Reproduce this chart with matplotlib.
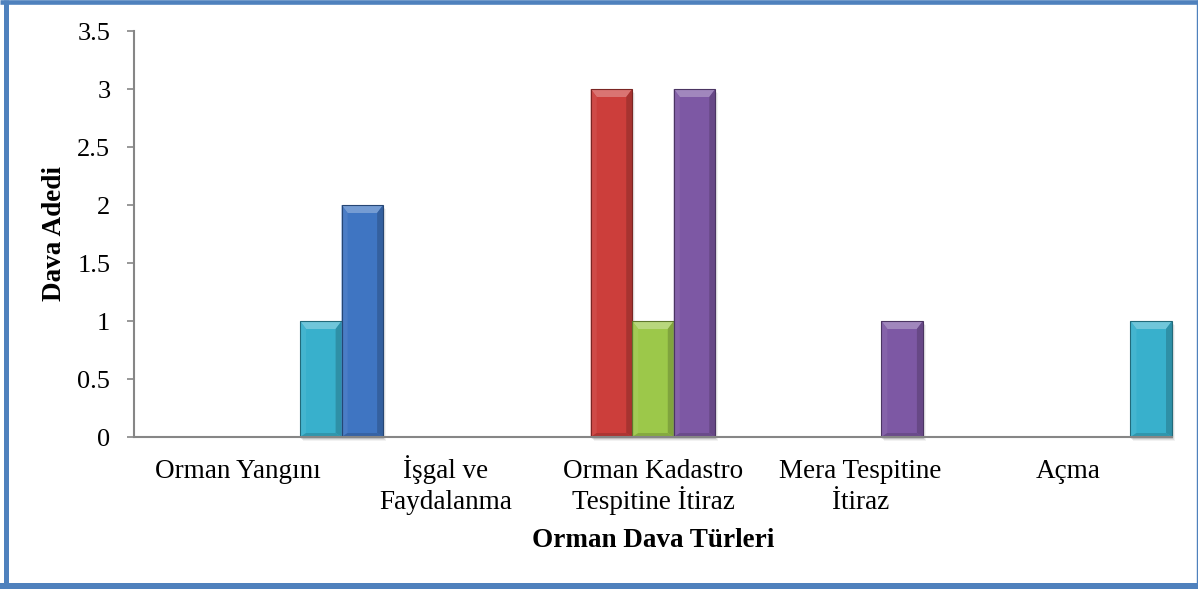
import matplotlib
matplotlib.use("Agg")
import matplotlib.pyplot as plt
import numpy as np
from matplotlib.patches import Polygon, Rectangle
from matplotlib.lines import Line2D
from matplotlib.colors import to_rgb
from matplotlib.transforms import IdentityTransform, offset_copy

# ---- data ----
categories = ["Orman Yangını", "İşgal ve\nFaydalanma", "Orman Kadastro\nTespitine İtiraz",
              "Mera Tespitine\nİtiraz", "Açma"]
series_red = [0, 0, 3, 0, 0]
series_green = [0, 0, 1, 0, 0]
series_purple = [0, 0, 3, 1, 0]
series_cyan = [1, 0, 0, 0, 1]
series_blue = [2, 0, 0, 0, 0]
yticks = [0, 0.5, 1, 1.5, 2, 2.5, 3, 3.5]
ytick_labels = ["0", "0.5", "1", "1.5", "2", "2.5", "3", "3.5"]
xlabel = "Orman Dava Türleri"
ylabel = "Dava Adedi"

series = [series_red, series_green, series_purple, series_cyan, series_blue]
colors = ["#CC3E3B", "#9CC84A", "#7D58A4", "#38B0CC", "#3F75C2"]

W, H = 1198, 589
fig = plt.figure(figsize=(W / 100, H / 100), dpi=100)
fig.patch.set_facecolor("white")
ax = fig.add_axes([134 / W, (H - 437) / H, (1172 - 134) / W, (437 - 31) / H])

font = "Liberation Serif"
fs_x = 19.5
fs_y = 19

x = np.arange(len(categories))
bw = 0.2
bars_all = []
for i, (vals, c) in enumerate(zip(series, colors)):
    offs = (i - 1) * bw
    bars = ax.bar(x + offs, vals, width=bw, color=c, edgecolor="none", zorder=3)
    bars_all.append((bars, c))

ax.set_xlim(-0.5, len(categories) - 0.5)
ax.set_ylim(0, 3.5)
ax.set_yticks(yticks)
ax.set_yticklabels(ytick_labels, fontfamily=font, fontsize=fs_y)
ax.set_xticks(x)
ax.set_xticklabels([""] * len(categories))
ax.tick_params(axis="x", length=0)
ax.tick_params(axis="y", length=7 * 0.72, width=1.2, color="#868686", pad=12)
for s in ["top", "right"]:
    ax.spines[s].set_visible(False)
for s in ["left", "bottom"]:
    ax.spines[s].set_color("#868686")
    ax.spines[s].set_linewidth(1.5)
ax.spines["bottom"].set_zorder(6)

# category labels: each line placed on a fixed baseline below the axis
xtr = ax.get_xaxis_transform()
line_offsets_px = [41, 72]
for xi, lab in zip(x, categories):
    for j, line in enumerate(lab.split("\n")):
        tr = offset_copy(xtr, fig=fig, x=0, y=-line_offsets_px[j] * 72 / 100, units="points")
        ax.text(xi, 0, line, transform=tr, ha="center", va="baseline",
                fontfamily=font, fontsize=fs_x, clip_on=False)

fig.text(653 / W, 1 - 547 / H, xlabel, ha="center", va="baseline",
         fontfamily=font, fontsize=fs_x, fontweight="bold")
fig.text(55 / W, 1 - 234 / H, ylabel, ha="center", va="center", rotation=90,
         fontfamily=font, fontsize=fs_x, fontweight="bold")

# ---- bevel effect (display pixel coords derived from bar geometry) ----
def mix(c, t, amt):
    c = np.array(to_rgb(c)); t = np.array(to_rgb(t))
    return tuple(c * (1 - amt) + t * amt)

ident = IdentityTransform()
for bars, c in bars_all:
    for b in bars:
        if b.get_height() <= 0:
            continue
        x0, y0 = ax.transData.transform((b.get_x(), 0))
        x1, y1 = ax.transData.transform((b.get_x() + b.get_width(), b.get_height()))
        bx, by = 6, 8
        for k, a in [(4, 0.05), (3, 0.07), (2, 0.09)]:
            ax.add_patch(Rectangle((x0 + k - 1, y0 - k), x1 - x0, y1 - y0, transform=ident,
                                   facecolor="black", alpha=a, edgecolor="none",
                                   zorder=2, clip_on=False))
        polys = [
            ([(x0, y1), (x1, y1), (x1 - bx, y1 - by), (x0 + bx, y1 - by)], mix(c, "white", 0.28)),
            ([(x0, y0), (x0, y1), (x0 + bx, y1 - by), (x0 + bx, y0 + 4)], mix(c, "white", 0.06)),
            ([(x1, y0), (x1, y1), (x1 - bx, y1 - by), (x1 - bx, y0 + 4)], mix(c, "black", 0.18)),
            ([(x0, y0), (x1, y0), (x1 - bx, y0 + 4), (x0 + bx, y0 + 4)], mix(c, "black", 0.15)),
        ]
        for pts, fc in polys:
            ax.add_patch(Polygon(pts, closed=True, transform=ident, facecolor=fc,
                                 edgecolor="none", zorder=4, clip_on=False))
        ax.add_patch(Rectangle((x0, y0), x1 - x0, y1 - y0, transform=ident,
                               facecolor="none", edgecolor=mix(c, "black", 0.4),
                               linewidth=0.8, zorder=5, clip_on=False))

# ---- blue frame ----
blue = "#4F81BD"
def px_line(xs, ys, lw_px):
    fig.lines.append(Line2D([v / W for v in xs], [1 - v / H for v in ys],
                            transform=fig.transFigure, color=blue,
                            linewidth=lw_px * 0.72, solid_capstyle="butt"))
px_line([5.5, 5.5], [0, 589], 5)
px_line([0, 1198], [2.3, 2.3], 4.6)
px_line([0, 1198], [586, 586], 6)
px_line([1197.3, 1197.3], [0, 589], 1.4)

fig.savefig("out.png", dpi=100, facecolor="white")
